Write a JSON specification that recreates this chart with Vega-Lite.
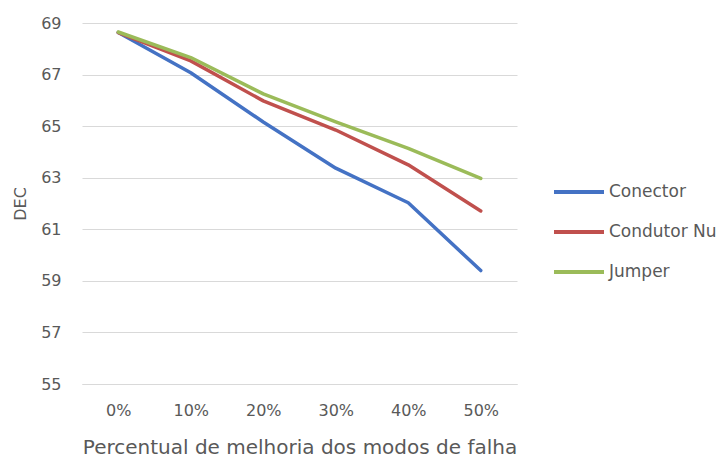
{
  "$schema": "https://vega.github.io/schema/vega-lite/v6.json",
  "width": 435,
  "height": 361,
  "autosize": {"type": "none"},
  "padding": {"left": 82, "top": 23, "right": 206, "bottom": 73},
  "background": "white",
  "config": {
    "view": {"stroke": null},
    "font": "DejaVu Sans",
    "axis": {"labelColor": "#595959", "titleColor": "#595959", "labelFont": "DejaVu Sans", "titleFont": "DejaVu Sans", "titleFontWeight": "normal"}
  },
  "data": {
    "values": [
      {"p": "0%", "s": "Conector", "v": 68.63},
      {"p": "10%", "s": "Conector", "v": 67.07},
      {"p": "20%", "s": "Conector", "v": 65.16},
      {"p": "30%", "s": "Conector", "v": 63.37},
      {"p": "40%", "s": "Conector", "v": 62.03},
      {"p": "50%", "s": "Conector", "v": 59.4},
      {"p": "0%", "s": "Condutor Nu", "v": 68.63},
      {"p": "10%", "s": "Condutor Nu", "v": 67.53},
      {"p": "20%", "s": "Condutor Nu", "v": 65.98},
      {"p": "30%", "s": "Condutor Nu", "v": 64.85},
      {"p": "40%", "s": "Condutor Nu", "v": 63.5},
      {"p": "50%", "s": "Condutor Nu", "v": 61.71},
      {"p": "0%", "s": "Jumper", "v": 68.65},
      {"p": "10%", "s": "Jumper", "v": 67.66},
      {"p": "20%", "s": "Jumper", "v": 66.25},
      {"p": "30%", "s": "Jumper", "v": 65.17},
      {"p": "40%", "s": "Jumper", "v": 64.14},
      {"p": "50%", "s": "Jumper", "v": 62.97}
    ]
  },
  "mark": {"type": "line", "strokeWidth": 3.5, "strokeCap": "round", "strokeJoin": "round"},
  "encoding": {
    "x": {
      "field": "p", "type": "ordinal",
      "sort": ["0%", "10%", "20%", "30%", "40%", "50%"],
      "scale": {"paddingInner": 0, "paddingOuter": 0.5},
      "axis": {
        "title": "Percentual de melhoria dos modos de falha",
        "labelAngle": 0, "labelFontSize": 16, "titleFontSize": 20,
        "ticks": false, "domain": true, "domainColor": "#D9D9D9", "domainWidth": 1,
        "labelPadding": 18, "titlePadding": 19
      }
    },
    "y": {
      "field": "v", "type": "quantitative",
      "scale": {"domain": [55, 69], "nice": false, "zero": false},
      "axis": {
        "title": "DEC", "values": [55, 57, 59, 61, 63, 65, 67, 69],
        "labelFontSize": 16, "titleFontSize": 16,
        "ticks": false, "domain": false, "gridColor": "#D9D9D9", "gridWidth": 1.2,
        "labelPadding": 21, "titlePadding": 12
      }
    },
    "color": {
      "field": "s", "type": "nominal",
      "scale": {"domain": ["Conector", "Condutor Nu", "Jumper"], "range": ["#4472C4", "#C0504D", "#9BBB59"]},
      "legend": {
        "title": null, "orient": "none", "legendX": 470, "legendY": 142,
        "symbolType": "stroke", "symbolSize": 2500, "symbolStrokeWidth": 4,
        "labelFontSize": 17, "labelColor": "#595959", "labelFont": "DejaVu Sans",
        "labelOffset": 3, "rowPadding": 5, "padding": 0, "labelLimit": 300
      }
    }
  }
}
